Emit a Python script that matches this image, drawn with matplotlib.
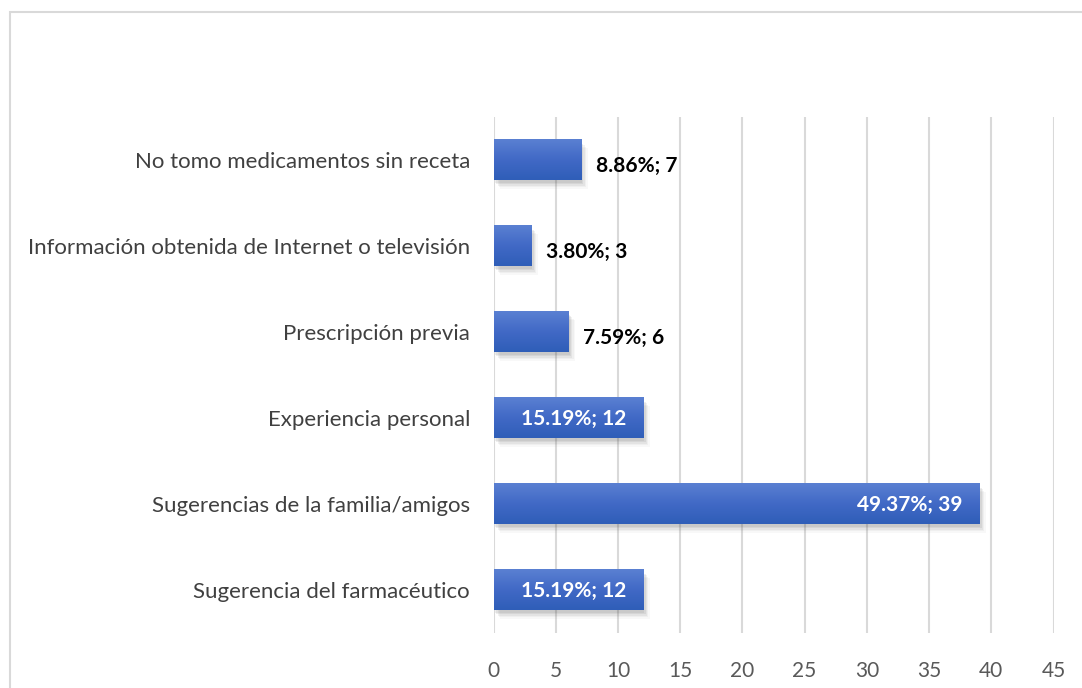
import matplotlib
matplotlib.use("Agg")
import matplotlib.pyplot as plt
import numpy as np
from matplotlib.patches import Rectangle
import matplotlib.patheffects as pe
from matplotlib.colors import LinearSegmentedColormap

categories = ["Sugerencia del farmacéutico", "Sugerencias de la familia/amigos",
              "Experiencia personal", "Prescripción previa",
              "Información obtenida de Internet o televisión",
              "No tomo medicamentos sin receta"]
counts = [12, 39, 12, 6, 3, 7]
percents = ["15.19%", "49.37%", "15.19%", "7.59%", "3.80%", "8.86%"]
xticks = [0, 5, 10, 15, 20, 25, 30, 35, 40, 45]

plt.rcParams['font.family'] = ['Lato', 'DejaVu Sans']

W, H = 1082, 688
fig = plt.figure(figsize=(W/100, H/100), dpi=100)
fig.patch.set_facecolor("white")
ax = fig.add_axes([493.5/W, 1 - 633/H, 560/W, (633-117)/H])

# outer border of the chart area
fig.patches.append(Rectangle((10/W, -0.05), 1.2, 1 - 12/H + 0.05, transform=fig.transFigure,
                             fill=False, edgecolor="#d9d9d9", linewidth=1.5))

y = np.arange(len(categories))
h = 0.47
shadow = []
for dx, dy, a in [(1, -2, 0.10), (2, -3, 0.10), (3, -4, 0.08), (4, -5, 0.06), (5, -6, 0.04)]:
    shadow.append(pe.SimplePatchShadow(offset=(dx, dy), shadow_rgbFace="#606060", alpha=a))
bars = ax.barh(y, counts, height=h, color="#4472c4", zorder=3,
               path_effects=shadow + [pe.Normal()])

# gradient overlay
grad = np.linspace(0, 1, 64).reshape(-1, 1)
cmap = LinearSegmentedColormap.from_list("g", ["#2f5eb8", "#4169c6", "#5a80d2"])
for b in bars:
    x0, y0 = b.get_x(), b.get_y()
    ax.imshow(grad, extent=[x0, x0 + b.get_width(), y0, y0 + b.get_height()],
              origin="lower", cmap=cmap, aspect="auto", zorder=4)

for b, c, p in zip(bars, counts, percents):
    yc = b.get_y() + b.get_height()/2
    label = f"{p}; {c}"
    if c >= 10:
        ax.annotate(label, (b.get_width(), yc), xytext=(-12, -1), textcoords="offset points",
                    ha="right", va="center", color="white", fontsize=15, fontweight="bold", zorder=6)
    else:
        ax.annotate(label, (b.get_width(), yc), xytext=(11, -4), textcoords="offset points",
                    ha="left", va="center", color="black", fontsize=15, fontweight="bold", zorder=6)

ax.set_xlim(0, 45)
ax.set_ylim(-0.5, len(categories) - 0.5)
ax.set_xticks(xticks)
ax.set_yticks(y)
ax.set_yticklabels(categories)
ax.grid(axis="x", color="#d9d9d9", linewidth=1.5, zorder=0)
ax.set_axisbelow(True)
for s in ax.spines.values():
    s.set_visible(False)
ax.tick_params(axis="y", length=0, pad=17, labelsize=16, labelcolor="#404040")
ax.tick_params(axis="x", length=0, pad=20, labelsize=15, labelcolor="#595959")

fig.savefig("out.png", dpi=100, facecolor="white")
